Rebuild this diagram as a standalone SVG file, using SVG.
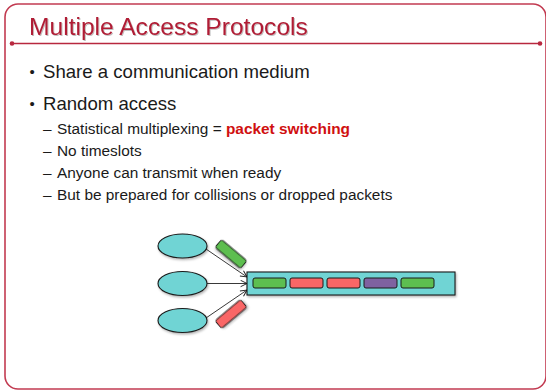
<svg xmlns="http://www.w3.org/2000/svg" width="546" height="392" viewBox="0 0 546 392">
<defs>
<style>
.frame{fill:#fff;stroke:#C23B51;stroke-width:1.6}
.rule{stroke:#B8283F;stroke-width:1.6}
.title{font-family:"Liberation Sans",Arial,sans-serif;font-size:24.6px;fill:#B01E35}
.b1{font-family:"Liberation Sans",Arial,sans-serif;font-size:18.6px;fill:#1a1a1a}
.dot{font-family:"Liberation Sans",Arial,sans-serif;font-size:15px;fill:#1a1a1a}
.b2{font-family:"Liberation Sans",Arial,sans-serif;font-size:15.4px;fill:#1a1a1a}
.hl{font-weight:bold;fill:#D01010}
.node{fill:#6FD4D4;stroke:#1a1a1a;stroke-width:1.1}
.pk{stroke:#1a1a1a;stroke-width:1}
.g{fill:#5DBE50}
.r{fill:#F96666}
.p{fill:#7F62A0}
.conn{stroke:#222;stroke-width:0.9;fill:none;marker-end:url(#arr)}
</style>
<marker id="arr" viewBox="0 0 10 10" refX="9" refY="5" markerWidth="8" markerHeight="8" markerUnits="userSpaceOnUse" orient="auto">
<path d="M1,1 L9,5 L1,9" fill="none" stroke="#222" stroke-width="1.2"/>
</marker>
<filter id="sh" x="-20%" y="-30%" width="150%" height="170%">
<feDropShadow dx="1" dy="1.5" stdDeviation="1" flood-color="#000" flood-opacity="0.3"/>
</filter>
<filter id="tsh" x="-5%" y="-20%" width="110%" height="150%">
<feDropShadow dx="1" dy="1" stdDeviation="0.6" flood-color="#000" flood-opacity="0.25"/>
</filter>
</defs>
<rect class="frame" x="5" y="4" width="541" height="385" rx="13"/>
<line class="rule" x1="12" y1="43.5" x2="540" y2="43.5"/>
<circle cx="12" cy="43.5" r="2.3" fill="#B8283F"/>
<circle cx="540" cy="43.5" r="2.3" fill="#B8283F"/>
<text class="title" x="29" y="35" filter="url(#tsh)">Multiple Access Protocols</text>
<text class="dot" x="29.5" y="77">•</text>
<text class="b1" x="43" y="78">Share a communication medium</text>
<text class="dot" x="29.5" y="109">•</text>
<text class="b1" x="43" y="110">Random access</text>
<text class="b2" x="43" y="134">–</text>
<text class="b2" x="57" y="134">Statistical multiplexing = <tspan class="hl">packet switching</tspan></text>
<text class="b2" x="43" y="156">–</text>
<text class="b2" x="57" y="156">No timeslots</text>
<text class="b2" x="43" y="178">–</text>
<text class="b2" x="57" y="178">Anyone can transmit when ready</text>
<text class="b2" x="43" y="200">–</text>
<text class="b2" x="57" y="200">But be prepared for collisions or dropped packets</text>
<g id="connectors">
<line class="conn" x1="206" y1="249" x2="247" y2="277"/>
<line class="conn" x1="207" y1="283.5" x2="247" y2="283.5"/>
<line class="conn" x1="206" y1="318" x2="247" y2="290"/>
</g>
<g id="node-a"><ellipse class="node" cx="182.5" cy="246" rx="24.5" ry="12" filter="url(#sh)"/></g>
<g id="node-b"><ellipse class="node" cx="182.5" cy="283.5" rx="24.5" ry="12" filter="url(#sh)"/></g>
<g id="node-c"><ellipse class="node" cx="182.5" cy="320.5" rx="24.5" ry="12" filter="url(#sh)"/></g>
<g id="packet-green-tilted"><rect class="pk g" x="214.5" y="249" width="33" height="10" rx="2" transform="rotate(40 231 254)" filter="url(#sh)"/></g>
<g id="packet-red-tilted"><rect class="pk r" x="214.5" y="309" width="33" height="10" rx="2" transform="rotate(-40 231 314)" filter="url(#sh)"/></g>
<g id="channel">
<rect class="node" x="247" y="272" width="208" height="23" filter="url(#sh)"/>
<rect class="pk g" x="253" y="278" width="33" height="10" rx="2"/>
<rect class="pk r" x="290" y="278" width="33" height="10" rx="2"/>
<rect class="pk r" x="327" y="278" width="33" height="10" rx="2"/>
<rect class="pk p" x="364" y="278" width="33" height="10" rx="2"/>
<rect class="pk g" x="401" y="278" width="33" height="10" rx="2"/>
</g>
</svg>
